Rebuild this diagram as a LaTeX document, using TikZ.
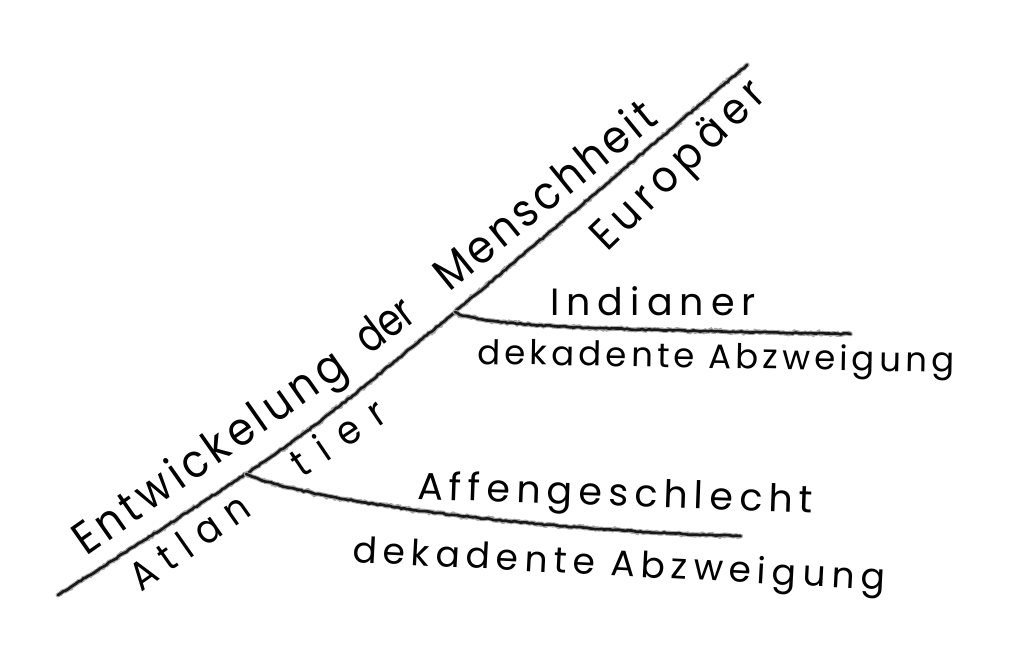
\documentclass[tikz,border=0pt]{standalone}
\usepackage{fontspec}
\setmainfont{Poppins}
\usetikzlibrary{decorations.pathmorphing}
\begin{document}
\begin{tikzpicture}[x=1pt,y=-1pt,
  crayon/.style={draw=black!90, line width=2.6pt, line cap=round, decorate,
    decoration={random steps,segment length=3pt,amplitude=0.6pt},
    preaction={draw=black!35, line width=4.8pt, line cap=round, decorate,
      decoration={random steps,segment length=2pt,amplitude=1pt}}},
  lbl/.style={inner sep=0pt, text=black, anchor=base west},
  hand/.style n args={3}{font=\fontsize{#1}{#1}\selectfont\addfontfeatures{LetterSpace=#2,FakeStretch=#3}}
]
\useasboundingbox (0,0) rectangle (1018,669);
% junctions and ends
\coordinate (s) at (58,595);
\coordinate (ja) at (246,474);
\coordinate (ji) at (455,312);
\coordinate (e) at (747,65);
\coordinate (ie) at (850,334);
\coordinate (ae) at (740,536);
% lines
\draw[crayon] (s) to[out=32,in=213] (ja) to[out=34,in=219] (ji) to[out=40,in=220] (e);
\draw[crayon] (ji) .. controls (480,328) and (640,330) .. (ie);
\draw[crayon] (ja) .. controls (300,499) and (520,530) .. (ae);
% texts
\node[lbl, hand={46}{10}{0.9}, rotate=35] (t1) at (86,557) {Entwickelung};
\node[lbl, hand={46}{0}{0.8}, rotate=37] (t2) at (369,356) {der};
\node[lbl, hand={46}{8}{0.9}, rotate=39] (t3) at (449,293) {Menschheit};
\node[lbl, hand={44}{14.6}{0.9}, rotate=44] (t4) at (607,253) {Europäer};
\node[lbl, hand={40}{27}{0.9}, rotate=35] (t5) at (141,593) {Atlan};
\node[lbl, hand={40}{40}{0.9}, rotate=34] (t6) at (302,479) {tier};
\node[lbl, hand={38}{18.5}{1}] (t7) at (550,315) {Indianer};
\node[lbl, hand={34}{12.4}{1}, rotate=-1] (t8) at (477,364) {dekadente Abzweigung};
\node[lbl, hand={38}{16.3}{1}, rotate=-2] (t9) at (417,499) {Affengeschlecht};
\node[lbl, hand={36}{16.7}{1}, rotate=-3] (t10) at (352,562) {dekadente Abzweigung};
\end{tikzpicture}
\end{document}
